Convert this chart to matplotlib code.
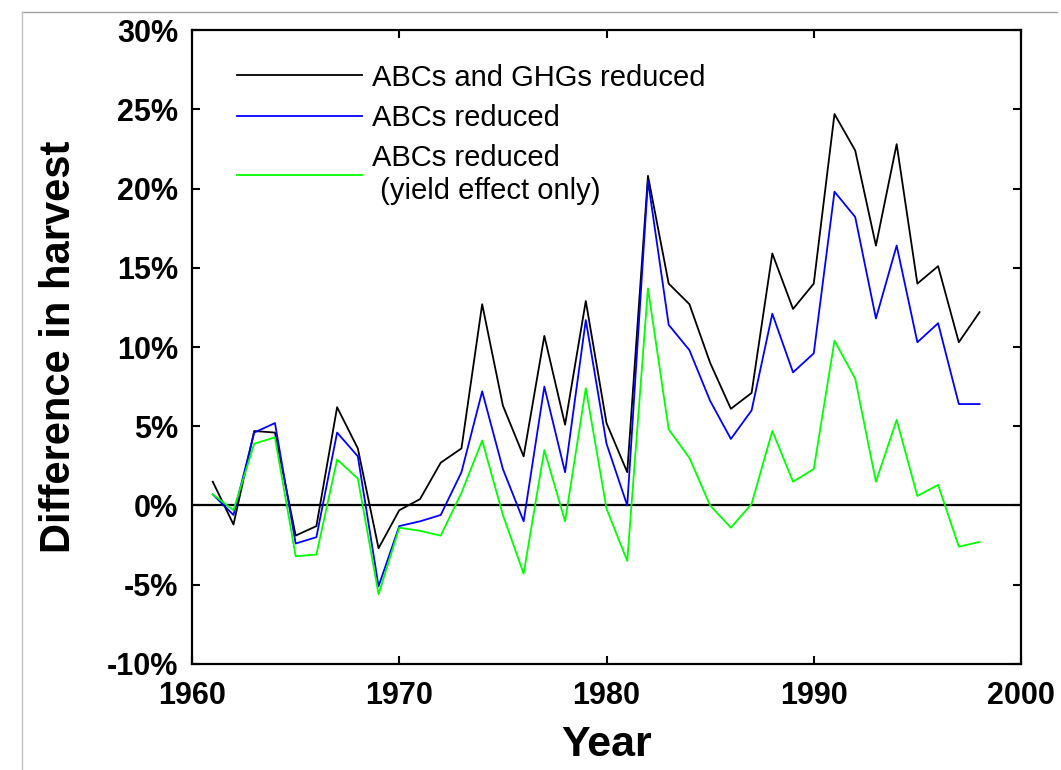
import matplotlib
matplotlib.use("Agg")
import matplotlib.pyplot as plt
from matplotlib.lines import Line2D
from matplotlib.ticker import FuncFormatter

plt.rcParams["font.family"] = ["Liberation Sans", "DejaVu Sans"]

years = list(range(1961, 1999))

# difference in harvest, percent
abcs_ghgs = [1.5, -1.2, 4.7, 4.6, -1.9, -1.3, 6.2, 3.6, -2.7, -0.3, 0.4,
             2.7, 3.6, 12.7, 6.3, 3.1, 10.7, 5.1, 12.9, 5.2, 2.1,
             20.8, 14.0, 12.7, 9.0, 6.1, 7.1, 15.9, 12.4, 14.0,
             24.7, 22.4, 16.4, 22.8, 14.0, 15.1, 10.3, 12.2]
abcs = [0.7, -0.6, 4.6, 5.2, -2.4, -2.0, 4.6, 3.1, -5.1, -1.3, -1.0,
        -0.6, 2.1, 7.2, 2.3, -1.0, 7.5, 2.1, 11.7, 3.9, 0.0,
        20.5, 11.4, 9.8, 6.6, 4.2, 6.0, 12.1, 8.4, 9.6,
        19.8, 18.2, 11.8, 16.4, 10.3, 11.5, 6.4, 6.4]
abcs_yield = [0.7, -0.3, 3.9, 4.3, -3.2, -3.1, 2.9, 1.7, -5.6, -1.4, -1.6,
              -1.9, 0.8, 4.1, -0.6, -4.3, 3.5, -1.0, 7.4, -0.2, -3.5,
              13.7, 4.8, 3.0, 0.0, -1.4, 0.1, 4.7, 1.5, 2.3,
              10.4, 8.0, 1.5, 5.4, 0.6, 1.3, -2.6, -2.3]

labels = ["ABCs and GHGs reduced", "ABCs reduced",
          "ABCs reduced\n (yield effect only)"]
colors = ["black", "#0000ff", "#00ff00"]

fig = plt.figure(figsize=(10.61, 7.70), dpi=100)
ax = fig.add_axes([0.181, 0.1377, 0.7813, 0.8233])

for series, color, label in zip([abcs_ghgs, abcs, abcs_yield], colors, labels):
    ax.plot(years, series, color=color, lw=1.3, label=label)

ax.axhline(0, color="black", lw=1.6, zorder=1)

ax.set_xlim(1960, 2000)
ax.set_ylim(-10, 30)
ax.set_xticks(range(1960, 2001, 10))
ax.set_yticks(range(-10, 31, 5))
ax.yaxis.set_major_formatter(FuncFormatter(lambda v, p: f"{v:.0f}%"))
ax.tick_params(direction="in", length=6, width=1.5, top=True, right=True,
               labelsize=22)
ax.tick_params(axis="x", pad=12)
ax.tick_params(axis="y", pad=10)
for lab in ax.get_xticklabels() + ax.get_yticklabels():
    lab.set_fontweight("bold")
for s in ax.spines.values():
    s.set_linewidth(1.6)

ax.set_xlabel("Year", fontsize=31, fontweight="bold", labelpad=10)
ax.set_ylabel("Difference in harvest", fontsize=30, fontweight="bold", labelpad=20)

ax.legend(loc="upper left", bbox_to_anchor=(0.054, 0.947), frameon=False,
          fontsize=21, handlelength=4.3, handletextpad=0.35,
          labelspacing=0.42, borderpad=0, borderaxespad=0)

# thin grey frame around the figure
fig.add_artist(Line2D([22 / 1061, 1057 / 1061], [1 - 12 / 770, 1 - 12 / 770],
                      color="#a0a0a0", lw=1))
fig.add_artist(Line2D([22 / 1061, 22 / 1061], [0, 1 - 12 / 770],
                      color="#c0c0c0", lw=1))

fig.savefig("out.png", dpi=100)
